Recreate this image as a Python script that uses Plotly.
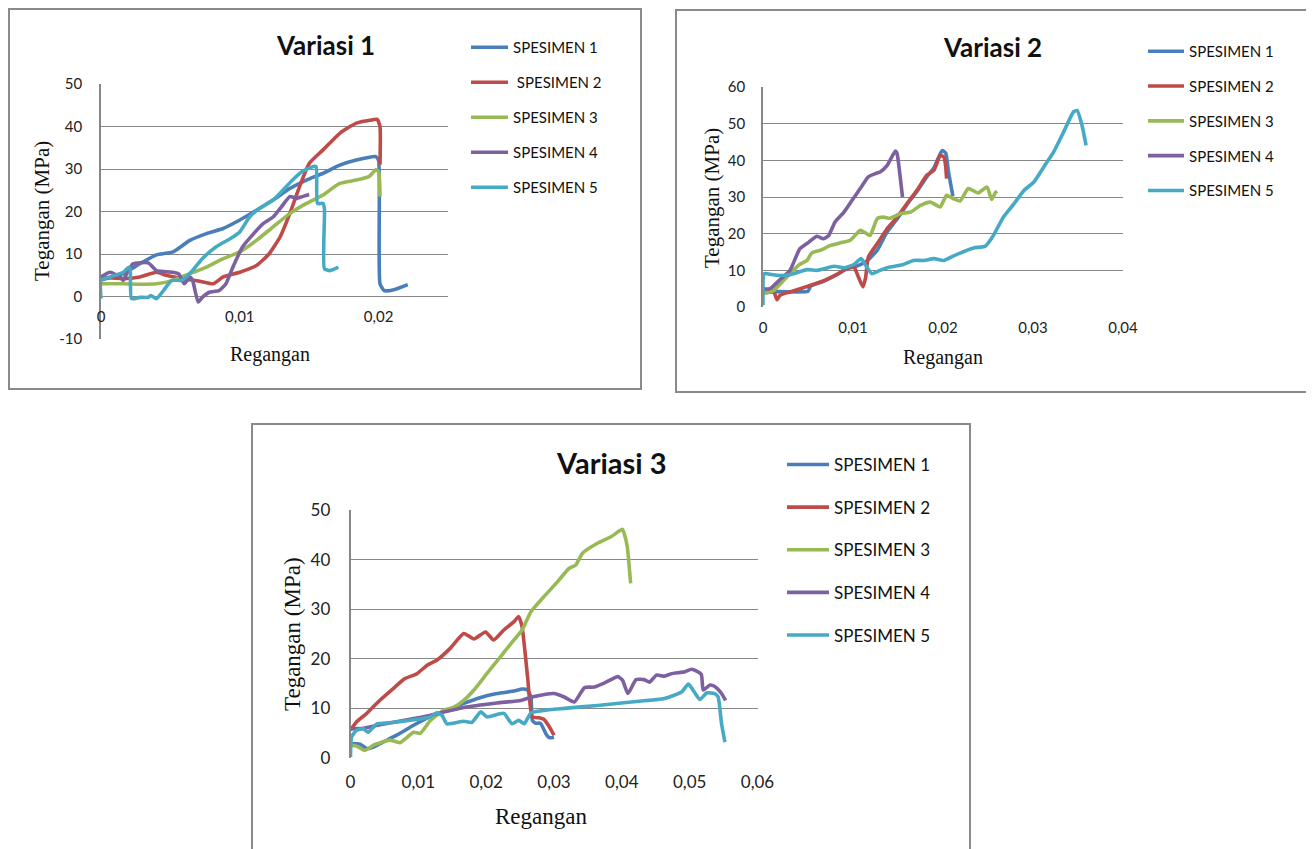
import plotly.graph_objects as go

# ---------------- DATA ----------------
series_names = ["SPESIMEN 1", " SPESIMEN 2", "SPESIMEN 3", "SPESIMEN 4", "SPESIMEN 5"]
series_names_b = ["SPESIMEN 1", "SPESIMEN 2", "SPESIMEN 3", "SPESIMEN 4", "SPESIMEN 5"]
colors = ["#4A7EBB", "#BE4B48", "#98B954", "#7D60A0", "#46AAC5"]

# Variasi 1
v1_s1_x = [0, 0.0016, 0.0028, 0.004, 0.0052, 0.0064, 0.0076, 0.0088, 0.010, 0.0112, 0.0124, 0.0136, 0.0148, 0.016, 0.0172, 0.0184, 0.0198, 0.0200, 0.0201, 0.0204, 0.0211, 0.0221]
v1_s1_y = [3.9, 5.4, 7.7, 9.8, 10.5, 13.2, 14.8, 16.0, 18.0, 20.3, 22.7, 25.4, 27.4, 29.0, 30.9, 32.1, 32.9, 32.0, 3.0, 1.4, 1.6, 2.8]
v1_s2_x = [0, 0.0016, 0.0028, 0.004, 0.0047, 0.0059, 0.0071, 0.0081, 0.0088, 0.010, 0.0112, 0.0121, 0.0129, 0.0136, 0.0143, 0.015, 0.016, 0.0172, 0.0184, 0.0196, 0.0199, 0.0201, 0.0201]
v1_s2_y = [4.6, 4.2, 4.6, 5.7, 5.0, 4.2, 3.6, 3.0, 4.6, 5.7, 7.3, 10.0, 14.0, 19.5, 25.8, 31.3, 34.5, 38.4, 40.8, 41.6, 41.7, 40.0, 31.0]
v1_s3_x = [0, 0.0016, 0.0028, 0.004, 0.0052, 0.0064, 0.0076, 0.0088, 0.010, 0.0112, 0.0124, 0.0136, 0.0148, 0.016, 0.0172, 0.0184, 0.0193, 0.0198, 0.0200, 0.0201]
v1_s3_y = [3.0, 3.0, 2.9, 3.0, 3.8, 5.4, 6.9, 8.9, 10.5, 13.2, 16.4, 19.5, 21.9, 23.9, 26.6, 27.4, 28.2, 29.8, 29.4, 23.5]
v1_s4_x = [0, 0.00065, 0.00137, 0.0016, 0.00184, 0.0023, 0.0034, 0.004, 0.0045, 0.0052, 0.0056, 0.006, 0.0064, 0.0066, 0.007, 0.0073, 0.0078, 0.0085, 0.009, 0.0095, 0.0102, 0.0110, 0.0117, 0.0124, 0.0130, 0.0136, 0.0141, 0.0145, 0.015]
v1_s4_y = [4.6, 5.7, 4.6, 3.8, 5.3, 7.7, 7.9, 6.1, 5.9, 5.7, 5.3, 3.0, 4.6, 3.8, -1.3, -0.2, 1.0, 1.4, 3.0, 6.9, 11.7, 14.8, 17.2, 18.7, 21.1, 23.5, 23.1, 23.5, 24.0]
v1_s5_x = [0, 0, 0.00065, 0.0016, 0.0020, 0.0021, 0.0022, 0.0028, 0.0034, 0.0036, 0.004, 0.0045, 0.0051, 0.0058, 0.0064, 0.0073, 0.0083, 0.0093, 0.010, 0.0107, 0.0114, 0.0124, 0.0131, 0.0138, 0.0145, 0.0153, 0.0155, 0.0156, 0.0160, 0.0161, 0.0161, 0.0165, 0.0171]
v1_s5_y = [-0.5, 3.8, 4.6, 5.7, 6.9, 6.5, -0.5, -0.2, -0.2, 0.2, -0.5, 1.4, 3.8, 3.8, 5.4, 8.9, 11.7, 13.6, 15.2, 18.7, 20.7, 22.7, 25.0, 27.4, 29.4, 30.6, 30.6, 21.9, 21.9, 20.5, 6.5, 6.1, 6.9]

# Variasi 2
v2_s1_x = [0, 0.0019, 0.005, 0.0053, 0.0067, 0.0082, 0.0093, 0.0101, 0.0115, 0.0127, 0.0138, 0.0149, 0.016, 0.0171, 0.0182, 0.019, 0.0199, 0.0203, 0.0206, 0.0211]
v2_s1_y = [4.0, 4.2, 4.3, 5.7, 7.0, 8.8, 10.4, 10.9, 12.5, 15.5, 20.5, 24.0, 28.0, 31.5, 35.5, 38.0, 42.7, 42.0, 37.0, 30.2]
v2_s2_x = [0.00044, 0.0012, 0.00156, 0.0019, 0.003, 0.0049, 0.0067, 0.0082, 0.0093, 0.0101, 0.0106, 0.0111, 0.0114, 0.0117, 0.0127, 0.0138, 0.0149, 0.016, 0.0171, 0.0182, 0.019, 0.0197, 0.0201, 0.0203, 0.0204]
v2_s2_y = [4.3, 4.1, 2.0, 3.2, 4.1, 5.6, 7.1, 8.9, 10.5, 10.9, 8.2, 5.5, 8.0, 13.6, 17.3, 21.4, 24.5, 28.2, 31.8, 35.9, 37.3, 41.4, 40.9, 38.2, 35.0]
v2_s3_x = [0, 0.0012, 0.0023, 0.003, 0.004, 0.0049, 0.0054, 0.0064, 0.0075, 0.0086, 0.0097, 0.0108, 0.0114, 0.0119, 0.0127, 0.0134, 0.0141, 0.0153, 0.0164, 0.0175, 0.0186, 0.0197, 0.0204, 0.0212, 0.0219, 0.0228, 0.0234, 0.0239, 0.0249, 0.0254, 0.0258, 0.026]
v2_s3_y = [3.6, 4.5, 7.3, 9.1, 11.5, 12.7, 14.7, 15.5, 16.8, 17.5, 18.2, 20.9, 20.2, 19.5, 24.1, 24.5, 24.2, 25.5, 25.9, 27.7, 28.6, 27.3, 30.5, 29.5, 28.9, 32.3, 31.7, 31.1, 32.7, 29.3, 31.1, 31.6]
v2_s4_x = [0, 0.0008, 0.0019, 0.003, 0.0041, 0.0051, 0.006, 0.0067, 0.0073, 0.008, 0.009, 0.0099, 0.0108, 0.0117, 0.0125, 0.013, 0.0138, 0.0147, 0.0149, 0.0152, 0.0155]
v2_s4_y = [5.0, 5.0, 7.5, 10.0, 15.9, 17.7, 19.3, 18.6, 19.5, 23.2, 25.9, 29.1, 32.3, 35.5, 36.4, 36.8, 38.6, 42.5, 41.8, 36.4, 30.0]
v2_s5_x = [0, 0.00015, 0.0008, 0.0019, 0.003, 0.0049, 0.006, 0.0079, 0.009, 0.0101, 0.0109, 0.0114, 0.0121, 0.013, 0.0141, 0.0156, 0.0167, 0.0179, 0.019, 0.0201, 0.0215, 0.0234, 0.0247, 0.0256, 0.0267, 0.0279, 0.029, 0.0301, 0.0312, 0.0323, 0.0334, 0.0345, 0.0349, 0.0354, 0.0359]
v2_s5_y = [0.5, 9.1, 8.9, 8.6, 8.8, 10.2, 10.0, 11.1, 10.7, 11.6, 13.2, 11.4, 9.1, 10.0, 10.9, 11.6, 12.7, 12.7, 13.2, 12.7, 14.3, 16.1, 16.6, 19.5, 24.5, 28.2, 31.8, 34.1, 38.2, 42.3, 47.7, 53.2, 53.6, 50.0, 44.1]

# Variasi 3
v3_s1_x = [0, 0.0014, 0.0024, 0.0034, 0.0048, 0.0068, 0.0093, 0.0118, 0.0142, 0.0167, 0.0192, 0.0216, 0.0241, 0.0253, 0.0261, 0.0266, 0.0268, 0.0273, 0.0280, 0.0288, 0.0293, 0.0300]
v3_s1_y = [2.9, 2.8, 1.9, 2.2, 3.2, 4.6, 6.6, 8.4, 9.6, 11.0, 12.2, 13.0, 13.5, 13.9, 13.7, 12.3, 7.6, 7.0, 7.0, 4.9, 4.1, 4.2]
v3_s2_x = [0, 0.0009, 0.0024, 0.0043, 0.0063, 0.008, 0.0098, 0.0113, 0.0127, 0.0147, 0.0167, 0.0182, 0.0199, 0.0211, 0.0226, 0.0241, 0.0248, 0.0253, 0.0261, 0.0268, 0.0278, 0.0285, 0.0293, 0.030]
v3_s2_y = [5.6, 7.3, 9.0, 11.6, 14.0, 16.0, 17.0, 18.7, 19.7, 22.1, 25.1, 24.0, 25.4, 23.8, 25.8, 27.5, 28.5, 26.4, 16.4, 8.3, 8.1, 7.8, 6.3, 4.6]
v3_s3_x = [0, 0.0009, 0.0021, 0.0034, 0.0058, 0.0073, 0.0093, 0.0103, 0.0118, 0.0137, 0.0152, 0.0167, 0.0182, 0.0201, 0.0221, 0.0241, 0.0253, 0.0266, 0.0285, 0.0305, 0.0322, 0.0332, 0.0342, 0.0364, 0.0384, 0.0401, 0.0404, 0.0408, 0.0413]
v3_s3_y = [2.6, 2.4, 1.5, 2.6, 3.6, 3.1, 5.2, 5.0, 7.6, 9.6, 10.2, 11.6, 13.7, 17.0, 20.4, 23.8, 25.8, 29.5, 32.5, 35.5, 38.2, 38.9, 41.3, 43.3, 44.6, 46.1, 45.0, 42.6, 35.2]
v3_s4_x = [0, 0.0019, 0.0043, 0.0068, 0.0118, 0.0167, 0.0216, 0.0251, 0.0271, 0.030, 0.0315, 0.033, 0.0345, 0.0359, 0.0374, 0.0394, 0.0401, 0.0409, 0.0421, 0.0433, 0.0441, 0.0451, 0.0463, 0.0473, 0.0493, 0.0503, 0.0517, 0.052, 0.053, 0.0537, 0.0547, 0.0553]
v3_s4_y = [5.9, 6.0, 6.7, 7.3, 8.6, 10.2, 11.1, 11.6, 12.4, 13.0, 12.3, 11.3, 14.2, 14.3, 15.1, 16.4, 15.7, 13.0, 15.8, 15.8, 15.3, 16.7, 16.5, 17.0, 17.4, 17.9, 16.9, 13.7, 14.7, 14.4, 13.0, 11.6]
v3_s5_x = [0, 0.00015, 0.0009, 0.0019, 0.0026, 0.0039, 0.0058, 0.0093, 0.0118, 0.0127, 0.0135, 0.0142, 0.0167, 0.0179, 0.0192, 0.0201, 0.0226, 0.0238, 0.0248, 0.0256, 0.0266, 0.0285, 0.0315, 0.0364, 0.0414, 0.0463, 0.0488, 0.0498, 0.0505, 0.0515, 0.0525, 0.0537, 0.0542, 0.0547, 0.0552]
v3_s5_y = [0.2, 4.2, 5.6, 5.9, 5.2, 6.9, 7.1, 7.7, 8.3, 9.1, 8.6, 6.9, 7.4, 7.2, 9.3, 8.3, 9.0, 6.9, 7.6, 6.9, 9.1, 9.6, 10.0, 10.6, 11.3, 12.0, 13.3, 14.9, 13.7, 11.8, 13.1, 13.0, 12.3, 6.9, 3.2]

# Tick labels
v1_xtick_vals = [0, 0.01, 0.02]
v1_xtick_text = ["0", "0,01", "0,02"]
v1_ytick_vals = [-10, 0, 10, 20, 30, 40, 50]
v1_ytick_text = ["-10", "0", "10", "20", "30", "40", "50"]
v2_xtick_vals = [0, 0.01, 0.02, 0.03, 0.04]
v2_xtick_text = ["0", "0,01", "0,02", "0,03", "0,04"]
v2_ytick_vals = [0, 10, 20, 30, 40, 50, 60]
v3_xtick_vals = [0, 0.01, 0.02, 0.03, 0.04, 0.05, 0.06]
v3_xtick_text = ["0", "0,01", "0,02", "0,03", "0,04", "0,05", "0,06"]
v3_ytick_vals = [0, 10, 20, 30, 40, 50]

panel_titles = ["Variasi 1", "Variasi 2", "Variasi 3"]
x_title = "Regangan"
y_title = "Tegangan (MPa)"

# ---------------- FIGURE ----------------
# The page body has an 8px margin; the figure fills the rest of the 1314x849 window.
OFF = 8
W, H = 1314 - OFF, 849 - OFF
def px(x):
    return (x - OFF) / W
def py(y):
    return 1 - (y - OFF) / H

fig = go.Figure()

panels = [
    (list(zip([v1_s1_x, v1_s2_x, v1_s3_x, v1_s4_x, v1_s5_x], [v1_s1_y, v1_s2_y, v1_s3_y, v1_s4_y, v1_s5_y])), "x", "y", "legend", series_names),
    (list(zip([v2_s1_x, v2_s2_x, v2_s3_x, v2_s4_x, v2_s5_x], [v2_s1_y, v2_s2_y, v2_s3_y, v2_s4_y, v2_s5_y])), "x2", "y2", "legend2", series_names_b),
    (list(zip([v3_s1_x, v3_s2_x, v3_s3_x, v3_s4_x, v3_s5_x], [v3_s1_y, v3_s2_y, v3_s3_y, v3_s4_y, v3_s5_y])), "x3", "y3", "legend3", series_names_b),
]
for pi, (series, xa, ya, lg, names) in enumerate(panels):
    for i, (xs, ys) in enumerate(series):
        fig.add_trace(go.Scatter(
            x=xs, y=ys, xaxis=xa, yaxis=ya, mode="lines", name=names[i],
            line=dict(color=colors[i], width=3.6, shape="spline", smoothing=0.5),
            legend=lg, legendgroup=f"{lg}_{i}", showlegend=True,
        ))

tickfont12 = dict(family="Lato, Carlito, sans-serif", size=15, color="#222")
tickfont3 = dict(family="Lato, Carlito, sans-serif", size=17, color="#222")
grid = "#878787"

common_y = dict(showgrid=True, gridcolor=grid, gridwidth=1.2, zeroline=False, showline=True,
                linecolor=grid, linewidth=1.5, ticks="", fixedrange=True, automargin=False)
common_x = dict(showgrid=False, zeroline=False, showline=False, ticks="", fixedrange=True,
                automargin=False)

legfont = dict(family="Lato, Carlito, sans-serif", size=15, color="#111")
fig.update_layout(
    width=W, height=H, margin=dict(l=0, r=0, t=0, b=0, pad=0, autoexpand=False),
    paper_bgcolor="white", plot_bgcolor="white",
    # Panel 1
    xaxis=dict(**common_x, domain=[px(101), px(448)], range=[0, 0.025], anchor="free",
               position=py(296), tickvals=v1_xtick_vals, ticktext=v1_xtick_text,
               tickfont=tickfont12, ticklabelstandoff=10),
    yaxis=dict(**common_y, domain=[py(339), py(84)], range=[-10, 50], anchor="x",
               tickvals=v1_ytick_vals, ticktext=v1_ytick_text, tickfont=tickfont12,
               ticklabelstandoff=14),
    # Panel 2
    xaxis2=dict(**common_x, domain=[px(763), px(1123)], range=[0, 0.04], anchor="y2",
                tickvals=v2_xtick_vals, ticktext=v2_xtick_text, tickfont=tickfont12,
                ticklabelstandoff=10),
    yaxis2=dict(**common_y, domain=[py(307), py(87)], range=[0, 60], anchor="x2",
                tickvals=v2_ytick_vals, tickfont=tickfont12, ticklabelstandoff=13),
    # Panel 3
    xaxis3=dict(**common_x, domain=[px(350.5), px(757.5)], range=[0, 0.06], anchor="y3",
                tickvals=v3_xtick_vals, ticktext=v3_xtick_text, tickfont=tickfont3,
                ticklabelstandoff=12),
    yaxis3=dict(**common_y, domain=[py(758), py(510)], range=[0, 50], anchor="x3",
                tickvals=v3_ytick_vals, tickfont=tickfont3, ticklabelstandoff=15),
    showlegend=True,
    legend=dict(x=px(466), y=py(31), xanchor="left", yanchor="top", tracegroupgap=12.5,
                itemwidth=37, font=legfont, bgcolor="rgba(0,0,0,0)"),
    legend2=dict(x=px(1143), y=py(35), xanchor="left", yanchor="top", tracegroupgap=12.3,
                 itemwidth=36, font=legfont, bgcolor="rgba(0,0,0,0)"),
    legend3=dict(x=px(782), y=py(447), xanchor="left", yanchor="top", tracegroupgap=17.5,
                 itemwidth=42,
                 font=dict(family="Lato, Carlito, sans-serif", size=17, color="#111"),
                 bgcolor="rgba(0,0,0,0)"),
)

# Panel frames
for (x0, y0, x1, y1) in [(9, 9, 641, 389), (676, 10, 1309, 392), (252, 424, 970, 860)]:
    fig.add_shape(type="rect", xref="paper", yref="paper",
                  x0=px(x0), x1=px(x1), y0=py(y1), y1=py(y0),
                  line=dict(color="#8a8a8a", width=2), fillcolor="rgba(0,0,0,0)", layer="below")

serif = "Liberation Serif, Times New Roman, serif"
titlefont = "Lato, Carlito, sans-serif"
ann = [
    (325, 45, panel_titles[0], titlefont, 26, True, 0),
    (992, 47, panel_titles[1], titlefont, 26, True, 0),
    (611, 463, panel_titles[2], titlefont, 29, True, 0),
    (270, 354, x_title, serif, 20, False, 0),
    (943, 357, x_title, serif, 20, False, 0),
    (541, 816, x_title, serif, 23, False, 0),
    (42, 211, y_title, serif, 21, False, -90),
    (712, 198, y_title, serif, 21, False, -90),
    (292, 634, y_title, serif, 23, False, -90),
]
for (x, y, t, fam, sz, bold, ang) in ann:
    fig.add_annotation(x=px(x), y=py(y), xref="paper", yref="paper", showarrow=False,
                       text=f"<b>{t}</b>" if bold else t, textangle=ang,
                       font=dict(family=fam, size=sz, color="#111"),
                       xanchor="center", yanchor="middle")

fig.write_html("out.html")
